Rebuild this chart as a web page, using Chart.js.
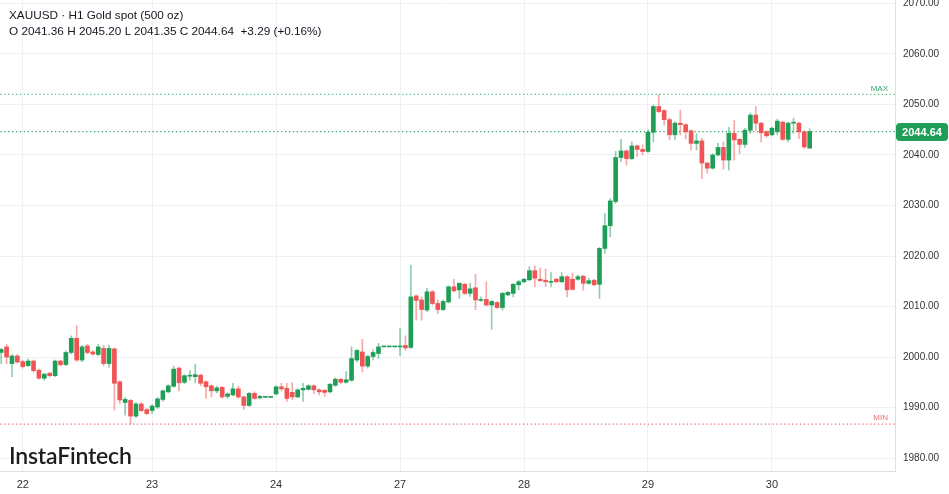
<!DOCTYPE html>
<html><head><meta charset="utf-8">
<script src="https://cdn.jsdelivr.net/npm/chart.js@4.4.1/dist/chart.umd.min.js"></script>
<style>
html,body{margin:0;padding:0;background:#fff;overflow:hidden;}
#wrap{position:relative;width:949px;height:494px;}
#c{position:absolute;left:0;top:0;}
.hdr{position:absolute;left:9px;font-family:"Liberation Sans",Arial,sans-serif;font-size:11.75px;color:#131722;white-space:pre;line-height:14px;}
#logo{position:absolute;left:9px;top:441px;font-family:Lato,"Open Sans",sans-serif;font-weight:600;font-size:23px;color:#1d1d1f;letter-spacing:-0.2px;}
</style></head>
<body><div id="wrap">
<canvas id="c" width="949" height="494"></canvas>
<div class="hdr" style="top:8px">XAUUSD · H1 Gold spot (500 oz)</div>
<div class="hdr" style="top:24px">O 2041.36 H 2045.20 L 2041.35 C 2044.64  +3.29 (+0.16%)</div>
<div id="logo">InstaFintech</div>
</div>
<script>
const opens = [
2000.9,2002.0,1998.7,2000.2,1999.1,1998.3,1999.2,1997.4,1995.8,1996.8,
1996.3,1999.2,1998.5,2000.9,2003.7,1999.4,2002.2,2001.0,2000.5,2001.7,
1998.7,2001.6,1995.1,1991.0,1991.4,1988.3,1990.7,1989.6,1989.4,1990.1,
1991.6,1993.1,1994.2,1997.8,1995.0,1996.2,1996.1,1996.4,1995.1,1994.3,
1993.3,1994.0,1992.2,1992.5,1993.7,1992.1,1990.4,1992.8,1991.9,1992.0,
1992.0,1992.7,1994.1,1993.8,1993.0,1992.1,1993.5,1993.6,1994.3,1993.5,
1993.4,1993.1,1994.4,1995.6,1995.0,1995.4,1999.4,2001.0,1998.2,2000.1,
2000.7,2002.0,2002.0,2002.0,2002.0,2002.3,2001.9,2012.1,2011.3,2009.3,
2012.9,2010.6,2009.4,2010.9,2013.9,2013.3,2014.4,2012.6,2013.7,2011.2,
2011.4,2010.3,2010.8,2009.8,2012.3,2012.6,2014.3,2014.9,2015.3,2017.1,
2015.4,2015.2,2014.8,2015.4,2014.9,2015.9,2015.4,2015.4,2016.0,2014.6,
2015.2,2014.4,2021.5,2026.0,2030.8,2039.5,2040.8,2039.3,2041.8,2041.1,
2040.7,2044.5,2049.6,2048.8,2047.0,2044.0,2046.3,2046.0,2044.8,2042.3,
2042.8,2038.4,2037.4,2040.0,2041.5,2039.0,2044.3,2043.1,2042.1,2044.9,
2047.9,2046.3,2044.6,2044.0,2044.6,2046.5,2043.1,2046.3,2046.3,2044.6,
2041.36];
const highs = [
2001.7,2002.5,2000.5,2000.5,1999.3,1999.6,1999.4,1997.6,1996.8,1997.0,
1999.4,1999.4,2001.2,2004.2,2006.2,2002.3,2002.5,2001.3,2002.5,2002.3,
2002.3,2001.8,1995.3,1992.0,1991.6,1991.0,1991.0,1989.8,1990.6,1992.0,
1993.5,1994.5,1998.2,1998.0,1996.5,1997.3,1998.6,1996.6,1995.3,1994.5,
1994.2,1994.2,1992.9,1994.8,1994.2,1992.3,1993.0,1993.1,1992.4,1992.0,
1992.0,1994.3,1994.8,1994.8,1994.9,1993.7,1994.8,1994.5,1994.5,1993.7,
1993.6,1994.8,1995.9,1995.8,1997.1,2002.0,2001.5,2003.5,2000.4,2001.4,
2002.7,2002.0,2002.0,2002.0,2005.7,2004.2,2018.2,2012.3,2011.9,2013.6,
2013.2,2011.3,2011.3,2014.1,2015.4,2014.7,2014.6,2014.6,2016.4,2011.9,
2014.9,2011.2,2011.0,2012.8,2013.0,2014.6,2015.2,2015.6,2017.9,2018.0,
2017.6,2017.4,2016.7,2015.6,2016.7,2016.1,2016.6,2016.2,2016.2,2015.6,
2015.4,2021.7,2028.4,2031.4,2040.7,2043.1,2041.0,2042.6,2042.0,2042.0,
2045.0,2049.9,2052.0,2049.0,2047.3,2046.6,2048.9,2046.2,2045.0,2044.2,
2043.3,2038.6,2040.3,2042.3,2042.6,2045.5,2046.9,2043.3,2045.3,2048.3,
2049.6,2046.5,2044.8,2045.6,2047.1,2046.7,2046.5,2047.3,2046.5,2044.8,
2045.20];
const lows = [
1998.7,1998.7,1996.1,1998.8,1997.8,1998.1,1997.0,1995.6,1995.4,1996.0,
1996.1,1998.2,1998.3,2000.6,1999.1,1999.1,2000.6,2000.3,2000.2,1998.3,
1998.0,1989.5,1990.8,1988.5,1986.7,1988.0,1989.2,1988.6,1988.9,1989.8,
1991.2,1992.9,1994.0,1993.3,1994.7,1995.4,1994.9,1994.3,1991.8,1992.1,
1992.9,1991.8,1991.8,1992.3,1991.8,1989.6,1990.2,1991.6,1991.7,1992.0,
1992.0,1992.5,1993.3,1991.2,1991.6,1991.9,1991.2,1993.4,1992.7,1992.5,
1992.2,1992.9,1994.2,1994.7,1994.8,1995.2,1999.0,1997.1,1997.8,1999.4,
1999.7,2002.0,2002.0,2002.0,2000.2,2001.3,2001.7,2007.3,2007.3,2009.0,
2010.3,2008.6,2009.2,2010.7,2012.9,2011.6,2012.4,2012.0,2009.4,2011.0,
2010.1,2005.5,2009.6,2009.3,2012.1,2011.9,2013.3,2014.7,2015.1,2013.9,
2015.0,2013.9,2013.9,2014.7,2014.7,2011.9,2013.2,2015.2,2013.2,2014.4,
2014.1,2011.6,2020.5,2023.8,2030.4,2038.7,2038.0,2039.1,2039.7,2040.0,
2040.5,2042.6,2048.4,2045.9,2043.0,2043.1,2044.0,2043.2,2041.0,2041.0,
2035.3,2036.4,2037.2,2039.8,2037.2,2037.0,2039.0,2040.3,2041.5,2044.3,
2044.9,2042.6,2043.5,2043.8,2044.0,2042.9,2042.6,2044.3,2043.3,2041.3,
2041.35];
const closes = [
2001.5,2000.0,2000.2,1999.0,1998.1,1999.2,1997.3,1995.8,1996.6,1996.3,
1999.2,1998.5,2000.9,2003.7,1999.4,2002.0,2000.9,2000.6,2002.0,1998.7,
2001.7,1994.8,1991.5,1991.6,1988.3,1990.7,1989.4,1988.8,1990.3,1991.7,
1993.3,1994.3,1997.6,1994.9,1996.3,1996.3,1996.5,1994.8,1994.1,1993.3,
1993.9,1992.1,1992.7,1993.7,1992.1,1990.4,1992.8,1991.8,1992.2,1992.0,
1992.0,1994.1,1993.7,1991.8,1992.1,1993.5,1993.8,1994.3,1993.5,1993.1,
1993.0,1994.6,1995.6,1995.0,1995.5,1999.7,2001.3,1998.2,2000.1,2000.9,
2002.0,2002.0,2002.0,2002.0,2002.2,2001.8,2011.9,2011.2,2009.4,2012.9,
2010.6,2009.4,2011.0,2013.9,2013.1,2014.6,2012.6,2013.5,2011.3,2011.4,
2010.3,2011.0,2009.8,2012.6,2012.8,2014.4,2014.9,2015.4,2017.1,2015.6,
2015.1,2014.9,2015.0,2014.9,2015.9,2013.3,2013.4,2015.9,2014.6,2015.1,
2014.3,2021.5,2026.0,2030.9,2039.5,2040.8,2039.3,2041.8,2041.1,2040.7,
2044.5,2049.6,2048.6,2047.0,2044.0,2046.3,2046.0,2044.6,2042.3,2042.8,
2038.4,2037.4,2040.0,2041.5,2039.0,2044.3,2043.0,2042.1,2044.9,2047.9,
2046.3,2044.4,2043.8,2045.3,2046.7,2043.1,2046.3,2046.5,2044.6,2041.6,
2044.64];
const dayLabels = ['22','23','24','27','28','29','30'];
const dayStarts = [4,28,51,74,97,120,143];
const yTicks = [1980,1990,2000,2010,2020,2030,2040,2050,2060,2070];
const maxPrice = 2052.0;
const minPrice = 1986.7;
const lastPrice = 2044.64;

const UP = '#1f9e58', DOWN = '#f05454';
const UP_W = 'rgba(31,158,88,0.5)', DOWN_W = 'rgba(240,84,84,0.5)';
const isUp = i => closes[i] >= opens[i];
const idx = opens.map((_, i) => i);

const wickData = idx.map(i => ({x: i, y: [lows[i], highs[i]]}));
const bodyData = idx.map(i => ({x: i, y: [opens[i], closes[i]]}));
const XMIN = -0.223, XMAX = 165.83;
const hline = v => [{x: XMIN - 5, y: v}, {x: XMAX + 5, y: v}];

const overlay = {
  id: 'overlay',
  afterDraw(chart) {
    const ctx = chart.ctx, y = chart.scales.y, a = chart.chartArea;
    ctx.save();
    ctx.font = '8px "Liberation Sans", Arial, sans-serif';
    ctx.textAlign = 'right';
    ctx.textBaseline = 'alphabetic';
    ctx.fillStyle = '#2ea86a';
    ctx.fillText('MAX', a.right - 7, y.getPixelForValue(maxPrice) - 3);
    ctx.fillStyle = '#f06a6a';
    ctx.fillText('MIN', a.right - 7, y.getPixelForValue(minPrice) - 4);
    const py = Math.round(y.getPixelForValue(lastPrice));
    const x0 = a.right + 1, x1 = 948, h = 18, r = 4;
    ctx.fillStyle = UP;
    ctx.beginPath();
    ctx.roundRect(x0, py - h / 2, x1 - x0, h, r);
    ctx.fill();
    ctx.fillStyle = '#ffffff';
    ctx.font = 'bold 11px "Liberation Sans", Arial, sans-serif';
    ctx.textAlign = 'center';
    ctx.textBaseline = 'middle';
    ctx.fillText(lastPrice.toFixed(2), (x0 + x1) / 2, py + 0.5);
    ctx.restore();
  }
};

new Chart(document.getElementById('c'), {
  type: 'bar',
  data: {
    datasets: [
      {type: 'line', data: hline(maxPrice), borderColor: '#5cbf8a', borderWidth: 1.3, borderDash: [1.3, 2.6], pointRadius: 0, order: 5},
      {type: 'line', data: hline(minPrice), borderColor: '#f07070', borderWidth: 1.3, borderDash: [1.3, 2.6], pointRadius: 0, order: 5},
      {type: 'line', data: hline(lastPrice), borderColor: '#2fa468', borderWidth: 1.3, borderDash: [1.3, 2.6], pointRadius: 0, order: 4},
      {data: wickData, backgroundColor: idx.map(i => isUp(i) ? UP_W : DOWN_W), barThickness: 1, grouped: false, order: 2, borderWidth: 0},
      {data: bodyData, backgroundColor: idx.map(i => isUp(i) ? UP : DOWN), barThickness: 4, minBarLength: 1, grouped: false, order: 1, borderWidth: 0}
    ]
  },
  options: {
    responsive: false,
    animation: false,
    devicePixelRatio: 1,
    layout: {padding: 0},
    plugins: {legend: {display: false}, tooltip: {enabled: false}},
    scales: {
      x: {
        type: 'linear', min: XMIN, max: XMAX, offset: false,
        grid: {color: '#f0f0f2', drawTicks: false, offset: false},
        border: {color: '#dcdfe4'},
        afterBuildTicks: s => { s.ticks = dayStarts.map(v => ({value: v})); },
        afterFit: s => { s.height = 23; s.paddingLeft = 0; s.paddingRight = 0; },
        ticks: {
          autoSkip: false, maxRotation: 0, padding: 7,
          color: '#333', font: {family: '"Liberation Sans", Arial, sans-serif', size: 11},
          callback: (v, i) => dayLabels[i]
        }
      },
      y: {
        type: 'linear', position: 'right', min: 1977.43, max: 2070.69,
        grid: {color: '#f0f0f2', drawTicks: false},
        border: {color: '#dcdfe4'},
        afterBuildTicks: s => { s.ticks = yTicks.map(v => ({value: v})); },
        afterFit: s => { s.width = 54; s.paddingTop = 0; s.paddingBottom = 0; },
        ticks: {
          padding: 8, color: '#333',
          font: {family: '"Liberation Sans", Arial, sans-serif', size: 10},
          callback: v => v.toFixed(2)
        }
      }
    }
  },
  plugins: [overlay]
});
</script>
</body></html>
